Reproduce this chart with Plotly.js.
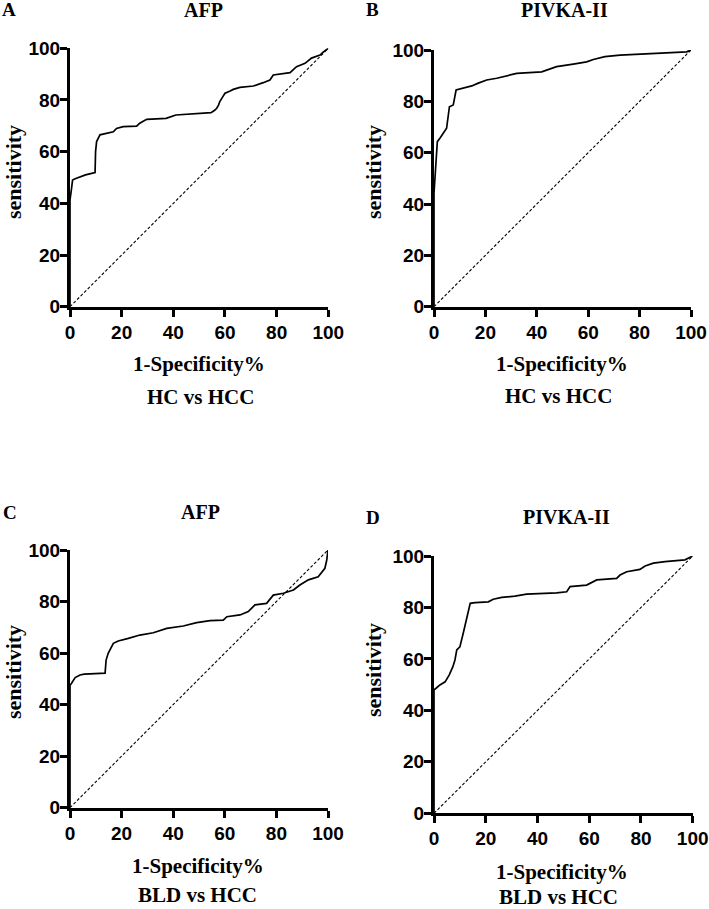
<!DOCTYPE html>
<html>
<head>
<meta charset="utf-8">
<script src="https://cdn.plot.ly/plotly-3.0.1.min.js"></script>
<style>html,body{margin:0;padding:0;background:#fff;}#chart{width:709px;height:909px;}</style>
</head>
<body>
<div id="chart"></div>
<script>
// ---- Data ----
const panelLetters = ["A", "B", "C", "D"];
const markerNames = ["AFP", "PIVKA-II", "AFP", "PIVKA-II"];
const comparisons = ["HC vs HCC", "HC vs HCC", "BLD vs HCC", "BLD vs HCC"];
const xAxisLabel = "1-Specificity%";
const yAxisLabel = "sensitivity";
const tickValues = [0, 20, 40, 60, 80, 100];
const tickLabels = ["0", "20", "40", "60", "80", "100"];
const diagX = [0, 100];
const diagY = [0, 100];

// A: AFP, HC vs HCC
const afpHcX = [0,0,0.5,1,2,4,6,8,9.7,9.9,10.3,11.6,14,16.8,18,20.6,25.8,27,29.7,35,37.2,41,45,50.3,54.6,56,56.8,57.5,58,59,60,62,63.2,65.8,71,74.8,77.4,78.7,83,85.2,87.7,89,91,93.5,95,96.8,98,100];
const afpHcY = [0,41.3,45,49,49.5,50.3,51,51.5,51.9,60,63.9,66.5,67,67.7,69,69.7,69.9,71,72.5,72.8,72.9,74.2,74.5,74.9,75.1,76,76.8,78,79.4,81,82.6,83.5,84.1,84.9,85.4,86.7,87.7,89.7,90.2,90.6,92.9,93.5,94.2,96.2,96.8,97.4,98.5,100];

// B: PIVKA-II, HC vs HCC
const pivHcX = [0,0,0.5,0.8,1.3,2.3,3.6,4.9,6,7.5,8.6,11.4,14.7,17,20.5,24.4,28.3,32.2,41.9,43.8,47.7,54.2,59.4,62,66.5,72.4,85.3,98.3,100];
const pivHcY = [0,44.3,52,59,64.3,65.6,67.5,69.5,77.9,78.6,84.4,85.1,86,87,88.3,89,89.9,90.9,91.5,92.2,93.5,94.5,95.4,96.3,97.4,98,98.7,99.3,100];

// C: AFP, BLD vs HCC
const afpBldX = [0,0,0.6,2,3.9,5.5,7.8,13.6,14,14.8,16.8,18.7,22.6,27.1,32.3,37.5,43.9,49.1,54.3,59.4,60.8,65.9,69.1,71.7,76.2,78.8,82.7,86.6,89.1,92.4,96.2,98.8,99.5,100];
const afpBldY = [0,47.5,48.3,50.5,51.5,51.8,51.9,52.2,57.3,59.9,63.8,64.7,65.7,67,67.9,69.6,70.5,71.8,72.6,72.8,74.1,74.8,76.1,78.7,79.3,82.5,83.2,84.5,86.4,88.4,89.6,92.9,96,100];

// D: PIVKA-II, BLD vs HCC
const pivBldX = [0,0,0.8,2.3,4.3,5.9,7.3,8.1,8.8,10,11.3,12.6,14,15.9,21,22.9,26.2,31.3,35.8,47.4,51.3,52.6,59,62.9,70.6,71.9,74.5,79.6,81.6,84.8,89.3,97,100];
const pivBldY = [0,48,48.6,49.9,51.1,53.8,57,59.6,63.5,64.7,70,75.1,81.6,81.9,82.2,83.2,83.9,84.4,85.2,85.7,86.1,88.1,88.7,90.7,91.3,92.6,93.9,94.8,96.1,97.2,97.8,98.5,100];

const curvesX = [afpHcX, pivHcX, afpBldX, pivBldX];
const curvesY = [afpHcY, pivHcY, afpBldY, pivBldY];

// ---- Layout geometry (pixels) ----
const W = 709, H = 909;
const px = v => v / W;
const py = v => 1 - v / H;
const plotBoxes = [
  {x0: 70, x1: 328.3, yTop: 48.3, yBot: 306.7},
  {x0: 434, x1: 691, yTop: 50, yBot: 306.7},
  {x0: 70, x1: 328, yTop: 550, yBot: 807.7},
  {x0: 434, x1: 692.7, yTop: 556, yBot: 813.3}
];
const letterPos = [[9, 10], [372, 10], [10, 512], [373, 517]];
const namePos = [[203, 10], [564, 10], [200, 512], [566, 517]];
const xtitlePos = [[199, 364], [562, 364], [198, 866], [562, 872]];
const compPos = [[200, 397], [558, 396], [197, 895], [558, 897]];
const ytitlePos = [[13, 172], [373, 172], [13, 672], [373, 670]];

const serif = "Liberation Serif";
const sans = "Liberation Sans";

const traces = [];
const layout = {
  width: W, height: H,
  margin: {l: 0, r: 0, t: 0, b: 0},
  paper_bgcolor: "#fff", plot_bgcolor: "#fff",
  showlegend: false,
  annotations: []
};

for (let i = 0; i < 4; i++) {
  const sfx = i === 0 ? "" : String(i + 1);
  const b = plotBoxes[i];
  traces.push({
    x: diagX, y: diagY, type: "scatter", mode: "lines",
    xaxis: "x" + sfx, yaxis: "y" + sfx,
    line: {color: "#000", width: 1.1, dash: "3px,2px"},
    hoverinfo: "skip"
  });
  traces.push({
    x: curvesX[i], y: curvesY[i], type: "scatter", mode: "lines",
    xaxis: "x" + sfx, yaxis: "y" + sfx,
    line: {color: "#000", width: 1.7, shape: "linear"},
    hoverinfo: "skip"
  });
  const axCommon = {
    range: [0, 100], tickmode: "array", tickvals: tickValues,
    ticktext: tickLabels.map(t => "<b>" + t + "</b>"),
    showgrid: false, zeroline: false, showline: true, linecolor: "#000", linewidth: 3,
    ticks: "outside", ticklen: 7, tickwidth: 3, tickcolor: "#000",
    tickfont: {family: sans, size: 19, color: "#000"},
    fixedrange: true
  };
  layout["xaxis" + sfx] = Object.assign({}, axCommon, {
    domain: [px(b.x0), px(b.x1)], anchor: "y" + sfx, ticklabelstandoff: -1
  });
  layout["yaxis" + sfx] = Object.assign({}, axCommon, {
    domain: [py(b.yBot), py(b.yTop)], anchor: "x" + sfx, ticklabelstandoff: -4
  });

  const ann = (text, pos, size, extra) => Object.assign({
    text: "<b>" + text + "</b>", xref: "paper", yref: "paper", x: px(pos[0]), y: py(pos[1]),
    xanchor: "center", yanchor: "middle", showarrow: false,
    font: {family: serif, size: size, color: "#000"}
  }, extra || {});
  layout.annotations.push(ann(panelLetters[i], letterPos[i], 19));
  layout.annotations.push(ann(markerNames[i], namePos[i], 20));
  layout.annotations.push(ann(xAxisLabel, xtitlePos[i], 21));
  layout.annotations.push(ann(comparisons[i], compPos[i], 21));
  layout.annotations.push(ann(yAxisLabel, ytitlePos[i], 22, {textangle: -90}));
}

Plotly.newPlot("chart", traces, layout, {displayModeBar: false, staticPlot: true});
</script>
</body>
</html>
